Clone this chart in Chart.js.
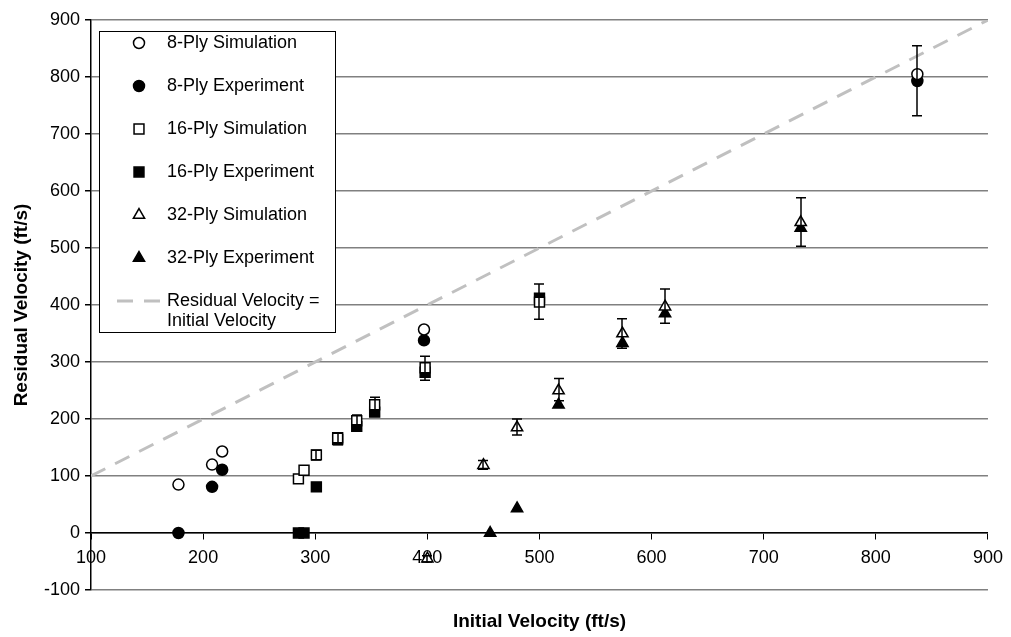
<!DOCTYPE html>
<html>
<head>
<meta charset="utf-8">
<script src="https://cdn.jsdelivr.net/npm/chart.js@4.4.1/dist/chart.umd.min.js"></script>
<style>
  html, body { margin: 0; padding: 0; background: #fff; }
  #wrap { width: 1011px; height: 637px; }
</style>
</head>
<body>
<div id="wrap"><canvas id="chart" width="1011" height="637"></canvas></div>
<script>
// initial velocity (x) and residual velocity (y), ft/s
const ply8SimX = [178, 208, 217, 397, 837];
const ply8SimY = [85, 120, 143, 357, 805];
const ply8ExpX = [178, 208, 217, 397, 837];
const ply8ExpY = [0, 81, 111, 338, 793];

const ply16SimX = [285, 290, 301, 320, 337, 353, 398, 500];
const ply16SimY = [95, 110, 137, 167, 197, 225, 290, 405];
const ply16ExpX = [285, 290, 301, 320, 337, 353, 398, 500];
const ply16ExpY = [0, 0, 81, 164, 187, 212, 282, 412];

const ply32SimX = [400, 450, 480, 517, 574, 612, 733];
const ply32SimY = [-45, 119, 185, 250, 350, 397, 545];
const ply32ExpX = [456, 480, 517, 574, 612, 733];
const ply32ExpY = [0, 43, 225, 333, 385, 535];

// error bars: x, low, high
const errX = [301, 320, 337, 353, 398, 400, 450, 480, 500, 517, 574, 612, 733, 837];
const errLow = [128, 155, 190, 213, 268, -51, 112, 172, 375, 232, 324, 368, 503, 732];
const errHigh = [145, 175, 207, 238, 310, -40, 127, 200, 437, 271, 376, 428, 588, 855];

// residual = initial
const refX = [100, 900];
const refY = [100, 900];

const xTicks = [100, 200, 300, 400, 500, 600, 700, 800, 900];
const yTicks = [-100, 0, 100, 200, 300, 400, 500, 600, 700, 800, 900];

const FONT = '"Liberation Sans", Arial, Helvetica, sans-serif';
Chart.defaults.font.family = FONT;
Chart.defaults.color = "#000";

function pts(xs, ys) {
  return xs.map((x, i) => ({ x, y: ys[i] }));
}

function marker(label, xs, ys, style, filled, radius) {
  return {
    label,
    data: pts(xs, ys),
    pointStyle: style,
    pointRadius: radius,
    pointBorderWidth: 1.5,
    pointBorderColor: "#000",
    pointBackgroundColor: filled ? "#000" : "#fff",
    borderColor: "#000",
    backgroundColor: filled ? "#000" : "#fff",
    showLine: false,
    order: 1,
  };
}

const datasets = [
  marker("8-Ply Simulation", ply8SimX, ply8SimY, "circle", false, 5.5),
  marker("8-Ply Experiment", ply8ExpX, ply8ExpY, "circle", true, 5.5),
  marker("16-Ply Simulation", ply16SimX, ply16SimY, "rect", false, 7),
  marker("16-Ply Experiment", ply16ExpX, ply16ExpY, "rect", true, 7),
  marker("32-Ply Simulation", ply32SimX, ply32SimY, "triangle", false, 6.5),
  marker("32-Ply Experiment", ply32ExpX, ply32ExpY, "triangle", true, 6.5),
  {
    label: ["Residual Velocity =", "Initial Velocity"],
    type: "line",
    data: pts(refX, refY),
    borderColor: "#c0c0c0",
    borderWidth: 3,
    borderDash: [16, 11],
    pointRadius: 0,
    fill: false,
    order: 10,
  },
];

const errorBars = {
  id: "errorBars",
  afterDatasetsDraw(chart) {
    const { ctx, scales } = chart;
    ctx.save();
    ctx.strokeStyle = "#000";
    ctx.lineWidth = 1.5;
    errX.forEach((v, i) => {
      const px = Math.round(scales.x.getPixelForValue(v));
      const lo = scales.y.getPixelForValue(errLow[i]);
      const hi = scales.y.getPixelForValue(errHigh[i]);
      ctx.beginPath();
      ctx.moveTo(px, lo);
      ctx.lineTo(px, hi);
      ctx.moveTo(px - 5, lo);
      ctx.lineTo(px + 5, lo);
      ctx.moveTo(px - 5, hi);
      ctx.lineTo(px + 5, hi);
      ctx.stroke();
    });
    ctx.restore();
  },
};

const legendBox = {
  id: "legendBox",
  afterDraw(chart) {
    const ctx = chart.ctx;
    const area = chart.chartArea;
    const left = area.left + 8;
    const top = area.top + 11;
    const w = 236;
    const h = 301;
    ctx.save();
    ctx.fillStyle = "#fff";
    ctx.fillRect(left, top, w, h);
    ctx.strokeStyle = "#000";
    ctx.lineWidth = 1;
    ctx.strokeRect(left + 0.5, top + 0.5, w, h);
    ctx.font = "18px " + FONT;
    ctx.textBaseline = "middle";
    ctx.textAlign = "left";
    chart.data.datasets.forEach((ds, i) => {
      const y = top + 12 + i * 43;
      const textX = left + 68;
      if (ds.type === "line") {
        ctx.save();
        ctx.strokeStyle = ds.borderColor;
        ctx.lineWidth = ds.borderWidth;
        ctx.setLineDash(ds.borderDash);
        ctx.beginPath();
        ctx.moveTo(left + 18, y);
        ctx.lineTo(left + 63, y);
        ctx.stroke();
        ctx.restore();
        ctx.fillStyle = "#000";
        ds.label.forEach((line, k) => ctx.fillText(line, textX, y + k * 20));
      } else {
        ctx.fillStyle = ds.pointBackgroundColor;
        ctx.strokeStyle = "#000";
        ctx.lineWidth = 1.5;
        Chart.helpers.drawPoint(ctx, {
          pointStyle: ds.pointStyle,
          radius: ds.pointRadius,
          borderWidth: 1.5,
          rotation: 0,
        }, left + 40, y);
        ctx.fillStyle = "#000";
        ctx.fillText(ds.label, textX, y);
      }
    });
    ctx.restore();
  },
};

new Chart(document.getElementById("chart"), {
  type: "scatter",
  data: { datasets },
  options: {
    responsive: false,
    animation: false,
    events: [],
    layout: { padding: { top: 20, right: 18, left: 0, bottom: 0 } },
    plugins: { legend: { display: false }, tooltip: { enabled: false } },
    scales: {
      x: {
        type: "linear",
        position: { y: 0 },
        min: 100,
        max: 900,
        afterBuildTicks(s) { s.ticks = xTicks.map((v) => ({ value: v })); },
        ticks: { color: "#000", font: { size: 18 }, padding: 8, maxRotation: 0 },
        grid: { drawOnChartArea: false, tickLength: 6, color: "#000", lineWidth: 1 },
        border: { color: "#000", width: 1.5 },
      },
      xt: {
        type: "linear",
        position: "bottom",
        min: 100,
        max: 900,
        ticks: { display: false },
        grid: { display: false },
        border: { display: false },
        title: {
          display: true,
          text: "Initial Velocity (ft/s)",
          color: "#000",
          font: { size: 19, weight: "bold" },
        },
        afterFit(s) { s.height = 47; },
      },
      y: {
        type: "linear",
        min: -100,
        max: 900,
        afterBuildTicks(s) { s.ticks = yTicks.map((v) => ({ value: v })); },
        ticks: { color: "#000", font: { size: 18 }, padding: 5 },
        grid: { color: "#808080", lineWidth: 1.5, tickColor: "#000", tickLength: 6 },
        border: { color: "#000", width: 1.5 },
        title: {
          display: true,
          text: "Residual Velocity (ft/s)",
          color: "#000",
          font: { size: 19, weight: "bold" },
          padding: { top: 10, bottom: 0 },
        },
        afterFit(s) { s.width = 91; },
      },
    },
  },
  plugins: [errorBars, legendBox],
});
</script>
</body>
</html>
